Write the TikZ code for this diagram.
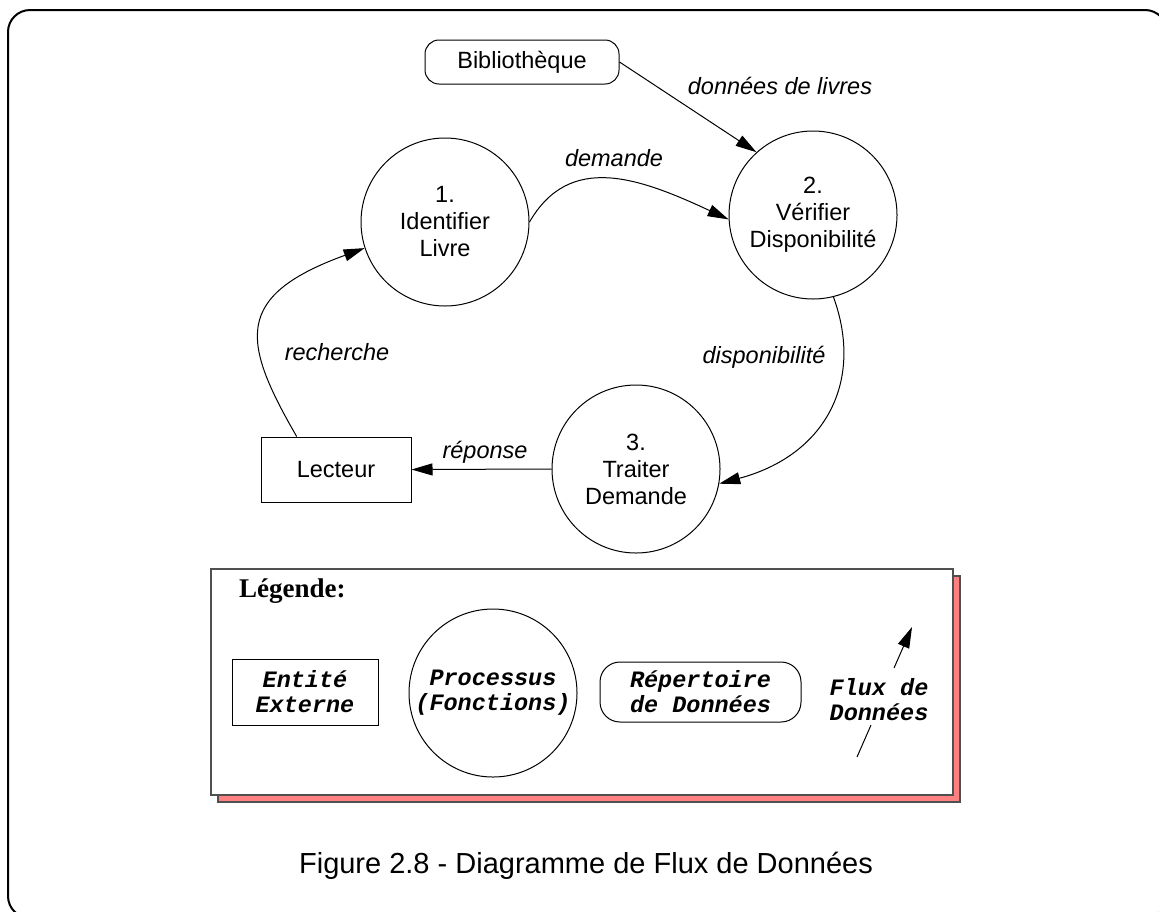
\documentclass[tikz,border=0pt]{standalone}
\usepackage{fontspec}
\setmainfont{Liberation Sans}
\newfontfamily\legendfont{Liberation Mono}
\newfontfamily\titrefont{Liberation Serif}
\usetikzlibrary{arrows.meta}
\definecolor{ombre}{HTML}{FF8080}
\definecolor{bordgris}{HTML}{505050}

\begin{document}
\begin{tikzpicture}[x=0.5pt,y=0.5pt,
  every node/.style={font=\fontsize{11.75}{13.5}\selectfont, align=center},
  flux/.style={-{Triangle[length=10.5pt,width=6pt]}, line width=0.5pt},
  proc/.style={draw, circle, line width=0.5pt, minimum size=84pt, inner sep=0pt},
  entite/.style={draw, rectangle, line width=0.5pt, minimum width=75pt, minimum height=32.5pt},
  biblio/.style={draw, rectangle, rounded corners=7pt, line width=0.5pt, minimum width=97pt, minimum height=22pt},
  lab/.style={font=\fontsize{11.75}{13.5}\selectfont\itshape},
  leg/.style={font=\fontsize{11.75}{12.5}\selectfont\legendfont\bfseries\itshape}]
\useasboundingbox (0,0) rectangle (1159,-911);
% cadre
\draw[line width=1pt, rounded corners=11pt] (8,-10) rectangle (1167,-918);
% entites et processus
\node[biblio] (bib) at (522,-62) {Bibliothèque};
\node[proc] (c1) at (445,-222) {1.\\Identifier\\Livre};
\node[proc] (c2) at (813,-215) {2.\\Vérifier\\Disponibilité};
\node[proc] (c3) at (636,-469) {3.\\Traiter\\Demande};
\node[entite] (lect) at (336,-469.5) {Lecteur};
% flux
\draw[flux] (bib.east) -- (c2.132);
\node[lab] (l-livres) at (780,-86) {données de livres};
\draw[flux] (c1.east) .. controls +(60:80) and +(155:100) .. (c2.183);
\node[lab] (l-demande) at (614,-158) {demande};
\draw[flux] (c2.284) .. controls +(-70:90) and +(15:110) .. (c3.350);
\node[lab] (l-dispo) at (764,-357) {disponibilité};
\draw[flux] (c3.west) -- (lect.east);
\node[lab] (l-reponse) at (485,-452) {réponse};
\draw[flux] (lect.140) .. controls +(120:110) and +(200:140) .. (c1.198);
\node[lab] (l-recherche) at (337,-352) {recherche};
% legende
\fill[ombre, draw=bordgris, line width=0.75pt] (218,-576) rectangle (960,-802);
\draw[fill=white, draw=bordgris, line width=0.75pt] (211,-569) rectangle (953,-795);
\node[anchor=base west, font=\fontsize{13.5}{16}\selectfont\titrefont\bfseries] (leg) at (232,-597) {Légende:};
\node[entite, leg, minimum width=73pt, minimum height=33pt] (l-ent) at (305,-692) {Entité\\Externe};
\node[proc, leg] (l-proc) at (493,-693) {Processus\\(Fonctions)};
\node[biblio, leg, rounded corners=10pt, minimum width=100.5pt, minimum height=30pt] (l-rep) at (700.5,-692) {Répertoire\\de Données};
\node[leg] (l-flux) at (879,-700) {Flux de\\Données};
\coordinate (f1) at (857,-757);
\coordinate (f2) at (871,-725);
\coordinate (f3) at (894,-668);
\coordinate (f4) at (912,-627);
\draw[line width=0.5pt] (f1) -- (f2);
\draw[flux] (f3) -- (f4);
% titre
\node[font=\fontsize{14.5}{17}\selectfont] (titre) at (586,-866) {Figure 2.8 - Diagramme de Flux de Données};
\end{tikzpicture}
\end{document}
